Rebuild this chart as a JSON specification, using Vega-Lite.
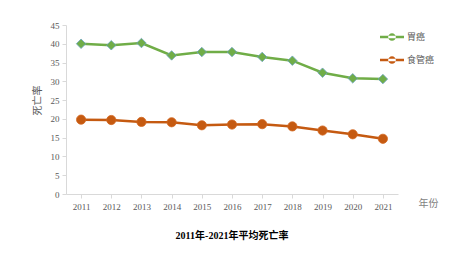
{
  "$schema": "https://vega.github.io/schema/vega-lite/v6.json",
  "autosize": {"type": "none"},
  "width": 332,
  "height": 169,
  "padding": {"left": 66, "top": 25, "right": 70, "bottom": 70},
  "background": "white",
  "config": {"view": {"stroke": null}},
  "data": {"values": [
    {"year": "2011", "series": "胃癌", "rate": 40.0},
    {"year": "2012", "series": "胃癌", "rate": 39.6},
    {"year": "2013", "series": "胃癌", "rate": 40.2},
    {"year": "2014", "series": "胃癌", "rate": 36.9},
    {"year": "2015", "series": "胃癌", "rate": 37.8},
    {"year": "2016", "series": "胃癌", "rate": 37.8},
    {"year": "2017", "series": "胃癌", "rate": 36.5},
    {"year": "2018", "series": "胃癌", "rate": 35.5},
    {"year": "2019", "series": "胃癌", "rate": 32.3},
    {"year": "2020", "series": "胃癌", "rate": 30.8},
    {"year": "2021", "series": "胃癌", "rate": 30.6},
    {"year": "2011", "series": "食管癌", "rate": 19.8},
    {"year": "2012", "series": "食管癌", "rate": 19.7},
    {"year": "2013", "series": "食管癌", "rate": 19.2},
    {"year": "2014", "series": "食管癌", "rate": 19.1},
    {"year": "2015", "series": "食管癌", "rate": 18.3},
    {"year": "2016", "series": "食管癌", "rate": 18.5},
    {"year": "2017", "series": "食管癌", "rate": 18.6},
    {"year": "2018", "series": "食管癌", "rate": 18.0},
    {"year": "2019", "series": "食管癌", "rate": 16.9},
    {"year": "2020", "series": "食管癌", "rate": 15.9},
    {"year": "2021", "series": "食管癌", "rate": 14.7}
  ]},
  "title": {
    "text": "2011年-2021年平均死亡率",
    "orient": "bottom",
    "offset": 20,
    "font": "Liberation Serif, Noto Sans CJK SC",
    "fontSize": 10,
    "fontWeight": "bold",
    "color": "#000000",
    "anchor": "middle"
  },
  "encoding": {
    "x": {
      "field": "year", "type": "ordinal",
      "scale": {"paddingInner": 0, "paddingOuter": 0},
      "axis": {
        "title": "年份", "titleFont": "Noto Sans CJK SC", "titleFontSize": 10, "titleFontWeight": "normal",
        "titleColor": "#7f7f7f", "titleX": 362, "titleY": 9, "titleAlign": "center", "titleBaseline": "middle",
        "labelAngle": 0, "labelFont": "Liberation Serif", "labelFontSize": 9, "labelColor": "#595959",
        "labelPadding": 4, "bandPosition": 0, "tickColor": "#d9d9d9", "tickSize": 4,
        "domainColor": "#d9d9d9", "grid": false
      }
    },
    "y": {
      "field": "rate", "type": "quantitative",
      "scale": {"domain": [0, 45], "nice": false},
      "axis": {
        "title": "死亡率", "titleFont": "Noto Sans CJK SC", "titleFontSize": 10, "titleFontWeight": "normal",
        "titleColor": "#595959", "titleX": -29, "titleY": 75, "titleAngle": -90, "titleAlign": "center", "titleBaseline": "middle",
        "values": [0, 5, 10, 15, 20, 25, 30, 35, 40, 45],
        "labelOverlap": false,
        "labelFont": "Liberation Serif", "labelFontSize": 9, "labelColor": "#595959",
        "ticks": true, "tickColor": "#d9d9d9", "tickSize": 4,
        "domainColor": "#d9d9d9", "grid": false, "labelPadding": 3
      }
    },
    "color": {
      "field": "series", "type": "nominal",
      "scale": {"domain": ["胃癌", "食管癌"], "range": ["#70ad47", "#c55a11"]},
      "legend": {
        "title": null, "orient": "none", "legendX": 314, "legendY": 0,
        "labelFont": "Noto Sans CJK SC", "labelFontSize": 9, "labelColor": "#595959",
        "rowPadding": 6, "symbolSize": 576, "labelOffset": 3, "symbolStrokeWidth": 0,
        "encode": {
          "symbols": {
            "update": {
              "shape": {"condition": {"test": "datum.value === '胃癌'", "value": "M-1,-0.1H1V0.1H-1Z M0,-0.32L0.32,0L0,0.32L-0.32,0Z"}, "value": "M-1,-0.1H1V0.1H-1Z M-0.32,0A0.32,0.32 0 1,0 0.32,0A0.32,0.32 0 1,0 -0.32,0Z"},
              "size": {"value": 576},
              "fill": {"scale": "color", "field": "value"},
              "stroke": {"value": "transparent"},
              "strokeWidth": {"value": 0}
            }
          }
        }
      }
    }
  },
  "layer": [
    {
      "mark": {"type": "line", "strokeWidth": 2.5},
      "encoding": {"detail": {"field": "series"}}
    },
    {
      "transform": [{"filter": "datum.series === '胃癌'"}],
      "mark": {"type": "point", "filled": true, "opacity": 1, "shape": "diamond", "size": 90, "stroke": "#6ba3c2", "strokeWidth": 0.8}
    },
    {
      "transform": [{"filter": "datum.series === '食管癌'"}],
      "mark": {"type": "point", "filled": true, "opacity": 1, "shape": "circle", "size": 85, "stroke": "#d3671f", "strokeWidth": 0.8}
    }
  ]
}
